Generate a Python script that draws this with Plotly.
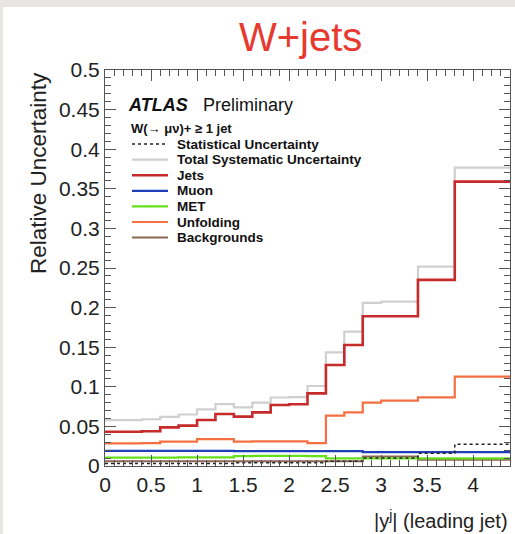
import plotly.graph_objects as go

# Bin edges in |y| of the leading jet
edges = [0.0, 0.2, 0.4, 0.6, 0.8, 1.0, 1.2, 1.4, 1.6, 1.8, 2.0, 2.2, 2.4,
         2.6, 2.8, 3.0, 3.4, 3.8, 4.4]

# Relative uncertainties per bin
stat_unc = [0.003, 0.003, 0.003, 0.003, 0.003, 0.003, 0.003, 0.004, 0.004,
            0.004, 0.004, 0.004, 0.006, 0.006, 0.010, 0.010, 0.016, 0.0275]
total_syst = [0.058, 0.058, 0.059, 0.062, 0.065, 0.0715, 0.078, 0.074, 0.080,
              0.0865, 0.087, 0.101, 0.1435, 0.1696, 0.206, 0.2075, 0.2517, 0.3767]
jets = [0.0433, 0.0433, 0.0438, 0.0488, 0.051, 0.058, 0.0657, 0.0623, 0.0677,
        0.077, 0.078, 0.0917, 0.1275, 0.1528, 0.189, 0.189, 0.235, 0.359]
muon = [0.019, 0.019, 0.019, 0.019, 0.019, 0.019, 0.019, 0.0188, 0.0188,
        0.0188, 0.0188, 0.0188, 0.0188, 0.0188, 0.0175, 0.0175, 0.0175, 0.0175]
met = [0.0105, 0.0105, 0.0105, 0.0105, 0.011, 0.011, 0.011, 0.0125, 0.0128,
       0.0128, 0.0128, 0.0125, 0.0097, 0.0097, 0.0097, 0.0097, 0.0097, 0.0097]
unfolding = [0.0286, 0.0286, 0.029, 0.0307, 0.0307, 0.034, 0.034, 0.0307, 0.031,
             0.031, 0.031, 0.029, 0.0636, 0.0677, 0.080, 0.0825, 0.0867, 0.1128]
backgrounds = [0.006, 0.006, 0.006, 0.006, 0.006, 0.006, 0.006, 0.006, 0.006,
               0.006, 0.006, 0.006, 0.006, 0.006, 0.012, 0.012, 0.008, 0.008]

x_ticks = [0, 0.5, 1, 1.5, 2, 2.5, 3, 3.5, 4]
x_ticklabels = ["0", "0.5", "1", "1.5", "2", "2.5", "3", "3.5", "4"]
y_ticks = [0, 0.05, 0.1, 0.15, 0.2, 0.25, 0.3, 0.35, 0.4, 0.45, 0.5]
y_ticklabels = ["0", "0.05", "0.1", "0.15", "0.2", "0.25", "0.3", "0.35", "0.4", "0.45", "0.5"]

series = [
    ("Statistical Uncertainty", stat_unc, "#222222", 1.5, "dot"),
    ("Total Systematic Uncertainty", total_syst, "#cfcfcf", 2.2, "solid"),
    ("Jets", jets, "#c62a2a", 2.6, "solid"),
    ("Muon", muon, "#1f3fb8", 2.2, "solid"),
    ("MET", met, "#66e01a", 2.2, "solid"),
    ("Unfolding", unfolding, "#f47040", 2.2, "solid"),
    ("Backgrounds", backgrounds, "#8a6655", 2.0, "solid"),
]
draw_order = [1, 6, 4, 3, 0, 5, 2]

FONT = "Liberation Sans, Arial, Helvetica, sans-serif"
W, H = 515, 534
L, R, T, B = 105, 5, 70, 68
PW, PH = W - L - R, H - T - B
X_RANGE = [0, 4.4]
Y_RANGE = [0, 0.5]


def px(xpix):
    return (xpix - L) / PW


def py(ypix):
    return (H - B - ypix) / PH


fig = go.Figure()
for i in draw_order:
    name, vals, color, width, dash = series[i]
    fig.add_trace(go.Scatter(
        x=edges, y=vals + [vals[-1]], mode="lines", name=name,
        line=dict(color=color, width=width, dash=dash, shape="hv"),
        showlegend=False, hoverinfo="skip"))

# invisible trace carrying the mirrored top/right axes
fig.add_trace(go.Scatter(x=X_RANGE, y=Y_RANGE, xaxis="x2", yaxis="y2",
                         mode="markers", marker=dict(opacity=0),
                         showlegend=False, hoverinfo="skip"))

shapes = [
    # page area
    dict(type="rect", xref="paper", yref="paper", layer="below",
         x0=px(3), x1=px(W + 5), y0=py(7), y1=py(H + 5),
         fillcolor="white", line=dict(width=0)),
]
annotations = []

# legend samples and labels
row_y = [144, 159.6, 175.2, 190.8, 206.4, 222, 237.6]
for (name, vals, color, width, dash), yy in zip(series, row_y):
    shapes.append(dict(type="line", xref="paper", yref="paper",
                       x0=px(132), x1=px(168), y0=py(yy), y1=py(yy),
                       line=dict(color=color, width=width if dash == "solid" else 1.3,
                                 dash=dash)))
    annotations.append(dict(xref="paper", yref="paper", x=px(176), y=py(yy),
                            xanchor="left", yanchor="middle", showarrow=False,
                            text="<b>%s</b>" % name, borderpad=0,
                            font=dict(family=FONT, size=13.5, color="#111111")))

annotations += [
    dict(xref="paper", yref="paper", x=px(130), y=py(128.5), xanchor="left",
         yanchor="middle", showarrow=False, borderpad=0,
         text="<b>W(\u2192 \u03bc\u03bd)+ \u2265 1 jet</b>",
         font=dict(family=FONT, size=13, color="#111111")),
    dict(xref="paper", yref="paper", x=px(126), y=py(105), xanchor="left",
         yanchor="middle", showarrow=False, text="<b><i>ATLAS</i></b>",
         font=dict(family=FONT, size=18, color="#111111")),
    dict(xref="paper", yref="paper", x=px(201), y=py(105), xanchor="left",
         yanchor="middle", showarrow=False, text="Preliminary",
         font=dict(family=FONT, size=18, color="#111111")),
    # axis titles
    dict(xref="paper", yref="paper", x=px(38), y=1, xanchor="center",
         yanchor="top", showarrow=False, textangle=-90, text="Relative Uncertainty",
         font=dict(family=FONT, size=22.5, color="#222222")),
    dict(xref="paper", yref="paper", x=px(510), y=py(519), xanchor="right",
         yanchor="middle", showarrow=False, text="|y<sup>j</sup>| (leading jet)",
         font=dict(family=FONT, size=20, color="#222222")),
    # title
    dict(xref="paper", yref="paper", x=px(300), y=py(37), xanchor="center",
         yanchor="middle", showarrow=False, text="W+jets",
         font=dict(family=FONT, size=40, color="#e8392f")),
]

tick_style = dict(ticks="inside", ticklen=11, tickwidth=1, tickcolor="#555555")
axis_common = dict(showgrid=False, zeroline=False, showline=True,
                   linecolor="#555555", linewidth=1, mirror=True,
                   tickfont=dict(family=FONT, size=21, color="#222222"),
                   **tick_style)
minor_x = dict(dtick=0.1, ticks="inside", ticklen=6, tickcolor="#555555")
minor_y = dict(dtick=0.01, ticks="inside", ticklen=6, tickcolor="#555555")

fig.update_layout(
    width=W, height=H, margin=dict(l=L, r=R, t=T, b=B),
    paper_bgcolor="#e8e6e2", plot_bgcolor="white",
    shapes=shapes, annotations=annotations, showlegend=False,
    xaxis=dict(range=X_RANGE, tickvals=x_ticks, ticktext=x_ticklabels,
               minor=minor_x, **axis_common),
    yaxis=dict(range=Y_RANGE, tickvals=y_ticks, ticktext=y_ticklabels,
               minor=minor_y, **axis_common),
    xaxis2=dict(range=X_RANGE, overlaying="x", side="top", anchor="y2",
                tickvals=x_ticks, showticklabels=False, showgrid=False,
                zeroline=False, minor=minor_x, **tick_style),
    yaxis2=dict(range=Y_RANGE, overlaying="y", side="right", anchor="x2",
                tickvals=y_ticks, showticklabels=False, showgrid=False,
                zeroline=False, minor=minor_y, **tick_style),
)

fig.write_html("out.html")
